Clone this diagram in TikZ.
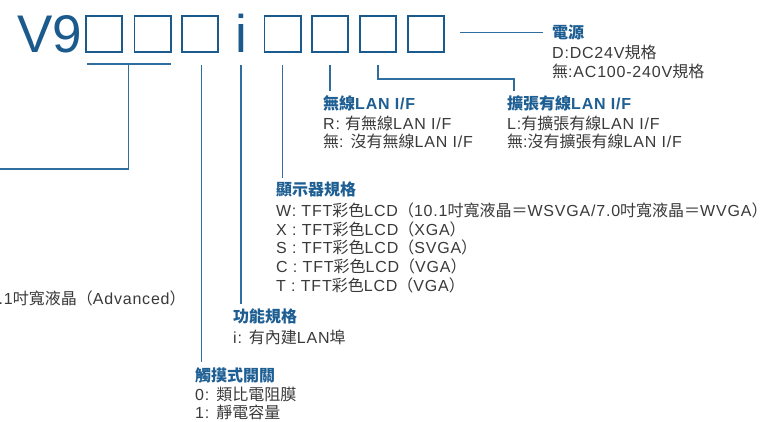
\documentclass[tikz,border=0pt]{standalone}
\usepackage{fontspec}
\setmainfont{Liberation Sans}[LetterSpace=5]
\newfontfamily\bigfont{Liberation Sans}
\newfontfamily\cj{Noto Sans CJK TC}
\usetikzlibrary{calc}
\newcommand\zh[1]{{\cj #1}}
\definecolor{vblue}{HTML}{1B5A8C}
\definecolor{hblue}{HTML}{1D5E93}
\definecolor{lblue}{HTML}{2F6E9F}
\definecolor{tgray}{HTML}{3A3A3A}
\begin{document}
\begin{tikzpicture}[x=1pt,y=-1pt,
  codebox/.style={draw=vblue, line width=1.6pt, minimum size=36.4pt, inner sep=0pt},
  big/.style={inner sep=0pt, text=vblue, font=\fontsize{53}{53}\bigfont},
  head/.style={inner sep=0pt, anchor=base west, text=hblue, font=\fontsize{16}{18}\selectfont\bfseries},
  body/.style={inner sep=0pt, anchor=base west, text=tgray, font=\fontsize{16}{18}\selectfont},
  conn/.style={draw=lblue, line width=1.1pt}]
\useasboundingbox (0,0) rectangle (766,422);
\fill[white] (0,0) rectangle (766,422);

% code line
\node[big, anchor=base west] (v9) at (17,53) {V9};
\node[codebox] (b1) at (104,34) {};
\node[codebox] (b2) at (152.5,34) {};
\node[codebox] (b3) at (200,34) {};
\node[big, anchor=base] (ii) at (241,53) {i};
\node[codebox] (b4) at (282.5,34) {};
\node[codebox] (b5) at (330,34) {};
\node[codebox] (b6) at (378,34) {};
\node[codebox] (b7) at (426,34) {};

% power
\node[head] (hp) at (552,38.5) {\zh{電源}};
\node[body] (p1) at (552,59) {D:DC24V\zh{規格}};
\node[body] (p2) at (552,77.5) {\zh{無}:AC100-240V\zh{規格}};

% wireless LAN
\node[head] (h5) at (323,110) {\zh{無線}LAN I/F};
\node[body] (w1) at (323,130) {R: \zh{有無線}LAN I/F};
\node[body] (w2) at (323,148) {\zh{無}: \zh{沒有無線}LAN I/F};

% extended wired LAN
\node[head] (h6) at (507,110) {\zh{擴張有線}LAN I/F};
\node[body] (e1) at (507,130) {L:\zh{有擴張有線}LAN I/F};
\node[body] (e2) at (507,148) {\zh{無}:\zh{沒有擴張有線}LAN I/F};

% display
\node[head] (h4) at (276,196) {\zh{顯示器規格}};
\node[body] (d1) at (276,217) {W: TFT\zh{彩色}LCD\zh{（}10.1\zh{吋寬液晶＝}WSVGA/7.0\zh{吋寬液晶＝}WVGA\zh{）}};
\node[body] (d2) at (276,235.5) {X : TFT\zh{彩色}LCD\zh{（}XGA\zh{）}};
\node[body] (d3) at (276,254) {S : TFT\zh{彩色}LCD\zh{（}SVGA\zh{）}};
\node[body] (d4) at (276,272.5) {C : TFT\zh{彩色}LCD\zh{（}VGA\zh{）}};
\node[body] (d5) at (276,291) {T : TFT\zh{彩色}LCD\zh{（}VGA\zh{）}};

% function
\node[head] (hi) at (233,322.5) {\zh{功能規格}};
\node[body] (f1) at (233,343) {i: \zh{有內建}LAN\zh{埠}};

% touch switch
\node[head] (h3) at (195,381) {\zh{觸摸式開關}};
\node[body] (t1) at (195,400.5) {0: \zh{類比電阻膜}};
\node[body] (t2) at (195,418.5) {1: \zh{靜電容量}};

% cut-off texts at left edge
\node[body] (l1) at (-1.5,305) {.1\zh{吋寬液晶（}Advanced\zh{）}};
\node[body] (l2) at (-5,344) {\zh{）}};

% connectors
\coordinate (top) at (0,65);
\coordinate (brk) at (0,64);
\coordinate (y79) at (0,79);
\coordinate (lft) at (-5,169);
\draw[conn] ($(b1.south west |- brk)+(2,0)$) -- ($(b2.south east |- brk)+(-1,0)$);
\coordinate (m12) at ($(b1.east |- brk)!0.5!(b2.west |- brk)$);
\draw[conn] (m12) |- (lft);
\draw[conn] ($(b3 |- top)+(1.5,0)$) -- ($(b3 |- h3.north)+(1.5,-5)$);
\draw[conn] (ii |- top) -- ($(ii |- hi.north)+(0,-5)$);
\draw[conn] (b4 |- top) -- ($(b4 |- h4.north)+(0,-4)$);
\draw[conn] (b5 |- top) -- ($(b5 |- h5.north)+(0,-5)$);
\draw[conn] (b6 |- top) -- (b6 |- y79) -| ($(h6.north west)+(7,-5)$);
\draw[conn] ($(b7.east |- hp.west)+(15,0)$) -- ($(hp.west)+(-9,0)$);
\end{tikzpicture}
\end{document}
